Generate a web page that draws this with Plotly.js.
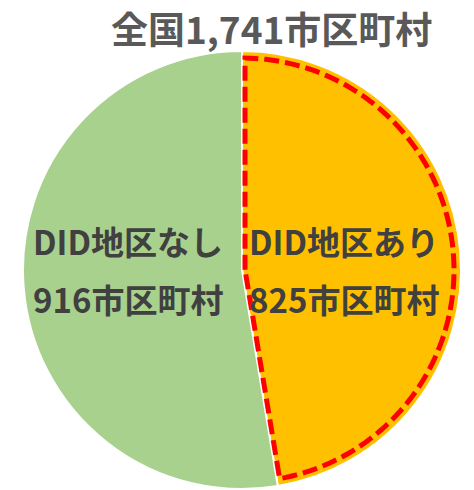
<!DOCTYPE html>
<html>
<head>
<meta charset="utf-8">
<script src="https://cdn.plot.ly/plotly-3.0.1.min.js"></script>
<style>html,body{margin:0;padding:0;background:#fff;}#chart{width:474px;height:490px;}</style>
</head>
<body>
<div id="chart"></div>
<script>
// ---- data ----
const categories = ['DID地区あり', 'DID地区なし'];
const values = [825, 916];
const unit = '市区町村';
const titlePrefix = '全国';

// ---- derived ----
const total = values.reduce((a, b) => a + b, 0);
const titleText = titlePrefix + total.toLocaleString('en-US') + unit;

const W = 474, H = 490;
const M = {l: 23, r: 13, t: 51, b: 1};
const plotPx = W - M.l - M.r; // 438 (square)

const font = '"Noto Sans CJK JP", "Noto Sans", sans-serif';

const pie = {
  type: 'pie',
  labels: categories,
  values: values,
  sort: false,
  direction: 'clockwise',
  rotation: 0,
  textinfo: 'none',
  hoverinfo: 'skip',
  showlegend: false,
  marker: {colors: ['#FFC000', '#A9D18E'], line: {color: '#FFFFFF', width: 2}},
  domain: {x: [0, 1], y: [0, 1]}
};

// dashed outline around first slice, computed from the values
const frac = values[0] / total;
const a1 = frac * 2 * Math.PI;
const c = [0.5, 0.5];
const rA = 0.5 * 0.968;
const d = 3 / plotPx;
const u1 = [0, 1], n1 = [1, 0];
const u2 = [Math.sin(a1), Math.cos(a1)], n2 = [-Math.cos(a1), Math.sin(a1)];
const bx = d * n2[0] - d * n1[0], by = d * n2[1] - d * n1[1];
const det = u1[0] * (-u2[1]) - u1[1] * (-u2[0]);
const t = (bx * (-u2[1]) - by * (-u2[0])) / det;
const corner = [c[0] + d * n1[0] + t * u1[0], c[1] + d * n1[1] + t * u1[1]];
const aStart = Math.asin(d / rA), aEnd = a1 - Math.asin(d / rA);
let path = 'M' + corner[0] + ',' + corner[1];
const N = 120;
for (let i = 0; i <= N; i++) {
  const a = aStart + (aEnd - aStart) * i / N;
  path += ' L' + (c[0] + rA * Math.sin(a)) + ',' + (c[1] + rA * Math.cos(a));
}
path += ' Z';

const pxX = px => (px - M.l) / plotPx;
const pxY = py => 1 - (py - M.t) / plotPx;

const labelFont = {family: font, size: 33, color: '#404040', weight: 'bold'};
const labelX = [pxX(344), pxX(128)];
const annotations = [];
categories.forEach((cat, i) => {
  annotations.push({xref: 'paper', yref: 'paper', x: labelX[i], y: pxY(241), text: cat,
    showarrow: false, font: labelFont, xanchor: 'center', yanchor: 'middle'});
  annotations.push({xref: 'paper', yref: 'paper', x: labelX[i], y: pxY(299), text: values[i] + unit,
    showarrow: false, font: labelFont, xanchor: 'center', yanchor: 'middle'});
});
// chart title
annotations.push({xref: 'paper', yref: 'paper', x: pxX(271), y: pxY(0), text: titleText,
  showarrow: false, xanchor: 'center', yanchor: 'top', borderpad: 0,
  font: {family: font, size: 37, color: '#595959', weight: 'bold'}});

const layout = {
  width: W, height: H,
  margin: M,
  paper_bgcolor: '#FFFFFF',
  plot_bgcolor: '#FFFFFF',
  shapes: [{type: 'path', xref: 'paper', yref: 'paper', path: path,
    line: {color: '#FF0000', width: 5, dash: '15px,6px'}, fillcolor: 'rgba(0,0,0,0)', layer: 'above'}],
  annotations: annotations
};

Plotly.newPlot('chart', [pie], layout, {displayModeBar: false, staticPlot: true});
</script>
</body>
</html>
